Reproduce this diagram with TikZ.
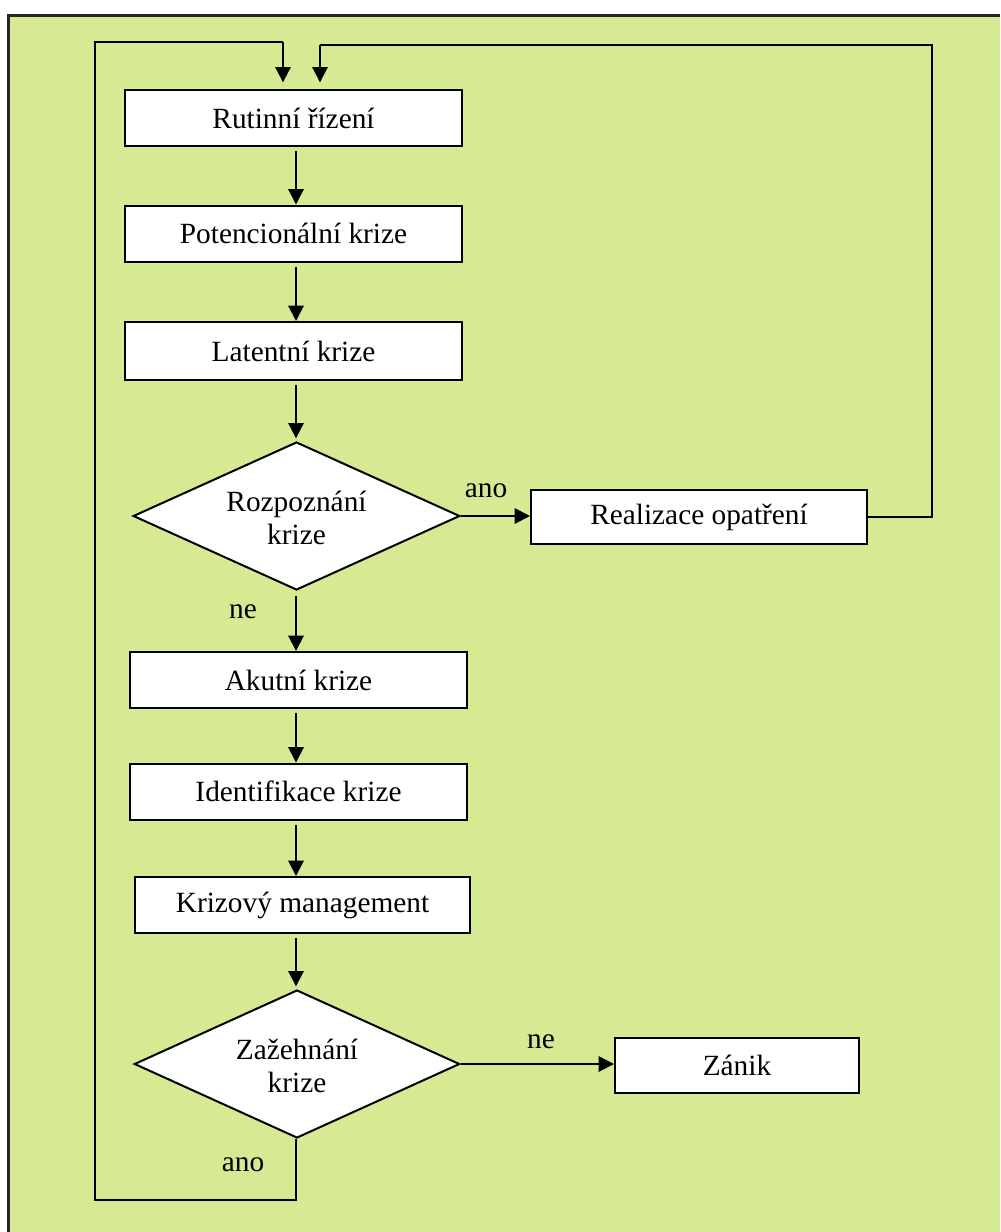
\documentclass[tikz,border=0pt]{standalone}
\usepackage{fontspec}
\setmainfont{Liberation Serif}
\usetikzlibrary{arrows.meta,shapes.geometric}
\definecolor{bggreen}{HTML}{D5EA93}
\tikzset{
  stepbox/.style={draw=black,line width=1.5pt,fill=white,rectangle,inner sep=0pt,
    minimum height=42pt,font=\fontsize{22}{24}\selectfont},
  decision/.style={draw=black,line width=1.5pt,fill=white,diamond,inner sep=0pt},
  dtext/.style={align=center,inner sep=0pt,font=\fontsize{22}{24.5}\selectfont},
  lbl/.style={inner sep=0pt,font=\fontsize{22}{24}\selectfont},
  flow/.style={line width=1.5pt,-{Triangle[length=11.5pt,width=11.5pt]}},
  link/.style={line width=1.5pt},
}
\begin{document}
\begin{tikzpicture}[x=0.75pt,y=-0.75pt]
\useasboundingbox (0,0) rectangle (1000,1232);
% background panel with its frame on the top and left
\fill[bggreen] (7,14) rectangle (1000,1232);
\draw[line width=2.4pt,black!85] (7,15.5) -- (1000,15.5);
\draw[line width=2.4pt,black!85] (8.5,14) -- (8.5,1232);

% main column
\node[stepbox,minimum width=252.75pt] (rut) at (293.5,118) {Rutinní řízení};
\node[stepbox,minimum width=252.75pt] (pot) at (293.5,233.5) {Potencionální krize};
\node[stepbox,minimum width=252.75pt,minimum height=43.5pt] (lat) at (293.5,351) {Latentní krize};
\node[decision,minimum width=245pt,minimum height=111pt] (roz) at (296.5,516) {};
\node[dtext] at ([yshift=-1.5pt]roz.center) {Rozpoznání\\krize};
\node[stepbox,minimum width=252pt,minimum height=40.5pt] (real) at (699,517) {Realizace opatření};
\node[stepbox,minimum width=252.75pt] (aku) at (298.5,680) {Akutní krize};
\node[stepbox,minimum width=252.75pt] (ide) at (298.5,791.5) {Identifikace krize};
\node[stepbox,minimum width=251.25pt] (kri) at (302.5,905) {Krizový management};
\node[decision,minimum width=244pt,minimum height=111pt] (zaz) at (297,1064) {};
\node[dtext] at ([yshift=-1.5pt]zaz.center) {Zažehnání\\krize};
\node[stepbox,minimum width=183pt,minimum height=41.25pt] (zan) at (737,1065.5) {Zánik};

% helper points for the routed lines
\coordinate (col) at (296,0);
\coordinate (lb) at (296,1200);
\coordinate (ll) at (95,1200);
\coordinate (lt) at (95,42);
\coordinate (la) at (283,42);
\coordinate (rr) at (932,517);
\coordinate (rt) at (932,45);
\coordinate (ra) at (320,45);

% straight flow down the column
\draw[flow] ([yshift=-3pt]rut.south -| col) -- (pot.north -| col);
\draw[flow] ([yshift=-3pt]pot.south -| col) -- (lat.north -| col);
\draw[flow] ([yshift=-3pt]lat.south -| col) -- ([yshift=2pt]roz.north -| col);
\draw[flow] ([yshift=-4pt]roz.south -| col) -- (aku.north -| col);
\draw[flow] ([yshift=-3pt]aku.south -| col) -- (ide.north -| col);
\draw[flow] ([yshift=-3pt]ide.south -| col) -- (kri.north -| col);
\draw[flow] ([yshift=-3pt]kri.south -| col) -- ([yshift=2pt]zaz.north -| col);

% branches
\draw[flow] (roz.east) -- (roz.east -| real.west);
\draw[flow] (zaz.east) -- (zaz.east -| zan.west);
\node[lbl] at (486,491) {ano};
\node[lbl] at (243,612) {ne};
\node[lbl] at (541,1042) {ne};
\node[lbl] at (243,1165) {ano};

% feedback loops back to the top
\draw[link] (zaz.south -| col) -- (lb) -- (ll) -- (lt) -- (la);
\draw[flow] (la) -- ([yshift=5pt]rut.north -| la);
\draw[link] (real.east) -- (rr) -- (rt) -- (ra);
\draw[flow] (ra) -- ([yshift=5pt]rut.north -| ra);
\end{tikzpicture}
\end{document}
